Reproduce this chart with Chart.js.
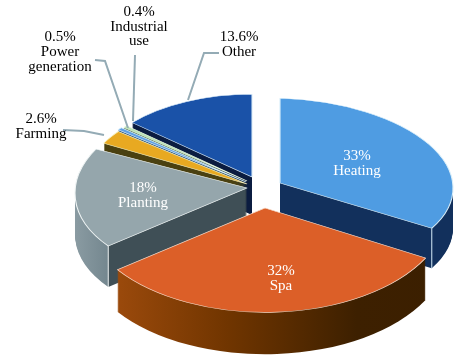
<!DOCTYPE html>
<html lang="en">
<head>
    <meta charset="UTF-8">
    <title>Geothermal use pie</title>
    <script src="https://cdn.jsdelivr.net/npm/chart.js"></script>
    <style>
        html, body { margin: 0; padding: 0; background: #fff; }
        canvas { display: block; }
    </style>
</head>
<body>
    <canvas id="pie" width="472" height="361"></canvas>

<script>
// data
const categories = ['Heating', 'Spa', 'Planting', 'Farming', 'Power generation', 'Industrial use', 'Other'];
const shares = [33, 32, 18, 2.6, 0.5, 0.4, 13.6];

// slice colours
const topColors = ['#4f9ce2', '#dc5f28', '#95a6ac', '#e8a921', '#5d9fe4', '#b9e2b4', '#1a52a8'];
const edgeColors = ['#d8eefa', '#f6d8c6', '#f0f5f5', '#f5f0c0', '#d8eefa', '#e8f6e0', '#d8eaf8'];
const wallColors = [
    [[0, '#12305c'], [1, '#12305c']],
    [[0, '#a8500f'], [0.4, '#703500'], [0.75, '#3d2000'], [1, '#3b1f00']],
    [[0, '#8a9ba2'], [0.096, '#74878f'], [0.096, '#3f4f56'], [1, '#3f4f56']],
    [[0, '#4a4010'], [1, '#4a4010']],
    [[0, '#26507e'], [1, '#26507e']],
    [[0, '#5d7a58'], [1, '#5d7a58']],
    [[0, '#0b1c40'], [1, '#0b1c40']]
];

// how each slice sits on the page (exploded, tilted)
const apexX = [280, 265, 247, 247, 246, 247, 252];
const apexY = [183, 208, 188, 184, 182, 181, 177];
const radius = [173, 183, 172, 163, 162, 160, 159];
const tilt = [0.49, 0.57, 0.53, 0.525, 0.525, 0.525, 0.52];
const shear = [0.03, 0, -0.03, 0, 0, 0, 0];
const depth = [40, 42, 41, 38, 38, 38, 38];
const cornerEdge = ['end', null, 'start', null, null, null, null];
const drawOrder = [6, 5, 4, 3, 2, 0, 1];

// labels: [text, x, y, colour]
const labelTexts = [
    ['0.4%', 139, 12, '#000'], ['Industrial', 139, 27, '#000'], ['use', 139, 41, '#000'],
    ['0.5%', 60, 37, '#000'], ['Power', 60, 52, '#000'], ['generation', 60, 67, '#000'],
    ['13.6%', 239, 37, '#000'], ['Other', 239, 52, '#000'],
    ['2.6%', 41, 119, '#000'], ['Farming', 41, 134, '#000'],
    ['33%', 357, 156, '#fff'], ['Heating', 357, 171, '#fff'],
    ['32%', 281, 271, '#fff'], ['Spa', 281, 286, '#fff'],
    ['18%', 143, 188, '#fff'], ['Planting', 143, 203, '#fff']
];

// leader lines
const leaders = [
    [[188, 100], [204, 53], [219, 53]],
    [[133, 121], [135, 55]],
    [[128, 128], [105, 61], [95, 60]],
    [[104, 135], [84, 131], [63, 130]]
];

// draws the arc of a slice under its own tilt, lifted down by h pixels
function withSliceTransform(ctx, arc, i, h, fn) {
    const sc = radius[i] / arc.outerRadius;
    const k = shear[i] * sc;
    const d = sc * tilt[i];
    ctx.save();
    ctx.transform(sc, k, 0, d, apexX[i] - sc * arc.x, apexY[i] + h - d * arc.y - k * arc.x);
    fn();
    ctx.restore();
}

function drawArcWith(ctx, arc, fill, border, width) {
    const saved = arc.options;
    arc.options = Object.assign(Object.create(saved), {
        backgroundColor: fill,
        borderColor: border,
        borderWidth: width
    });
    arc.draw(ctx);
    arc.options = saved;
}

// gradient across the slice's width, in the arc's own coordinates
function wallGradient(ctx, arc, i) {
    const r = arc.outerRadius;
    const g = ctx.createLinearGradient(arc.x - r, 0, arc.x + r, 0);
    wallColors[i].forEach(s => g.addColorStop(s[0], s[1]));
    return g;
}

const pie3d = {
    id: 'pie3d',
    beforeDatasetDraw(chart, args) {
        const ctx = chart.ctx;
        const arcs = args.meta.data;
        drawOrder.forEach(i => {
            const arc = arcs[i];
            // side walls: the slice stacked downward
            for (let h = depth[i]; h >= 1; h--) {
                withSliceTransform(ctx, arc, i, h, () => {
                    drawArcWith(ctx, arc, wallGradient(ctx, arc, i), 'transparent', 0);
                });
            }
            // light line down the outer corner
            if (cornerEdge[i]) {
                const a = cornerEdge[i] === 'end' ? arc.endAngle : arc.startAngle;
                const px = apexX[i] + radius[i] * Math.cos(a);
                const py = apexY[i] + radius[i] * tilt[i] * Math.sin(a) + shear[i] * radius[i] * Math.cos(a);
                ctx.save();
                ctx.strokeStyle = edgeColors[i];
                ctx.lineWidth = 1;
                ctx.beginPath();
                ctx.moveTo(px, py);
                ctx.lineTo(px, py + depth[i]);
                ctx.stroke();
                ctx.restore();
            }
            // top face
            withSliceTransform(ctx, arc, i, 0, () => {
                drawArcWith(ctx, arc, topColors[i], edgeColors[i], 1.2);
            });
        });
        return false;
    },
    afterDraw(chart) {
        const ctx = chart.ctx;
        ctx.save();
        ctx.strokeStyle = '#94abb5';
        ctx.lineWidth = 2;
        leaders.forEach(pts => {
            ctx.beginPath();
            pts.forEach((p, n) => n ? ctx.lineTo(p[0], p[1]) : ctx.moveTo(p[0], p[1]));
            ctx.stroke();
        });
        ctx.font = '15px "Liberation Serif"';
        ctx.textAlign = 'center';
        ctx.textBaseline = 'middle';
        labelTexts.forEach(t => {
            ctx.fillStyle = t[3];
            ctx.fillText(t[0], t[1], t[2]);
        });
        ctx.restore();
    }
};

new Chart(document.getElementById('pie'), {
    type: 'pie',
    data: {
        labels: categories,
        datasets: [{
            data: shares,
            backgroundColor: topColors,
            borderColor: edgeColors,
            borderWidth: 1
        }]
    },
    options: {
        responsive: false,
        animation: false,
        layout: { padding: 0 },
        plugins: { legend: { display: false }, tooltip: { enabled: false } }
    },
    plugins: [pie3d]
});
</script>
</body>
</html>
